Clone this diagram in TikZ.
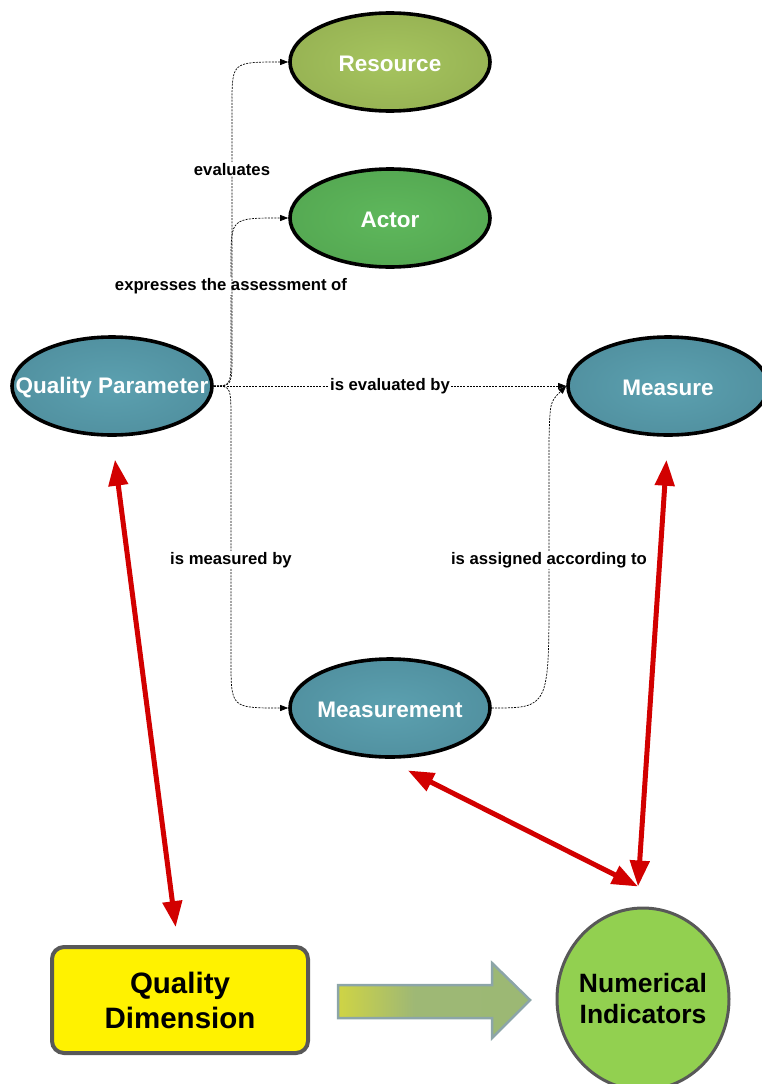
\documentclass[tikz,border=0pt]{standalone}
\usepackage{fontspec}
\setmainfont{Liberation Sans}
\usetikzlibrary{shapes.geometric,arrows.meta,calc}

% radial fills for the ellipses (lighter centre, darker rim)
\pgfdeclareradialshading{tealshade}{\pgfpoint{0bp}{0bp}}{rgb(0bp)=(0.36,0.63,0.69);rgb(50bp)=(0.28,0.51,0.57)}
\pgfdeclareradialshading{oliveshade}{\pgfpoint{0bp}{0bp}}{rgb(0bp)=(0.65,0.77,0.37);rgb(50bp)=(0.54,0.64,0.29)}
\pgfdeclareradialshading{greenshade}{\pgfpoint{0bp}{0bp}}{rgb(0bp)=(0.37,0.72,0.36);rgb(50bp)=(0.30,0.61,0.29)}
% fill of the block arrow: yellow fading to grey-green
\pgfdeclarehorizontalshading{arrowfill}{100bp}{rgb(0bp)=(0.93,0.93,0.12);rgb(20bp)=(0.86,0.86,0.22);rgb(45bp)=(0.62,0.72,0.46);rgb(100bp)=(0.60,0.72,0.45)}

\definecolor{redarrow}{RGB}{210,0,0}
\definecolor{rimgray}{RGB}{88,88,88}
\definecolor{nigreen}{RGB}{146,208,80}
\definecolor{arrowedge}{RGB}{140,165,168}

\tikzset{
  ell/.style={ellipse, draw=black, line width=3.6pt, shade, minimum width=200pt,
    minimum height=98pt, inner sep=0pt},
  ntext/.style={text=white, yshift=-2pt, font=\bfseries\fontsize{22.5}{26}\selectfont},
  dline/.style={draw=black, line width=0.7pt, dash pattern=on 2pt off 1.2pt,
    -{Triangle[length=8pt,width=6pt]}},
  lbl/.style={fill=white, inner sep=1pt, text=black,
    font=\bfseries\fontsize{16.7}{19}\selectfont},
  redlink/.style={draw=redarrow, line width=5pt,
    {Triangle[length=26pt,width=19pt]}-{Triangle[length=26pt,width=19pt]}},
}

\begin{document}
\begin{tikzpicture}[x=1pt,y=-1pt]
\useasboundingbox (0,0) rectangle (761,1084);

% concept ellipses
\node[ell, shading=oliveshade, label={[ntext]center:Resource}] (res) at (390,62) {};
\node[ell, shading=greenshade, label={[ntext]center:Actor}] (act) at (390,218) {};
\node[ell, shading=tealshade, label={[ntext]center:Quality Parameter}] (qp) at (112,386) {};
\node[ell, shading=tealshade, label={[ntext]center:Measure}] (ms) at (668,386) {};
\node[ell, shading=tealshade, label={[ntext]center:Measurement}] (mt) at (390,708) {};

% bottom row
\node[draw=rimgray, line width=4pt, fill=yellow, rounded corners=12pt,
  minimum width=256pt, minimum height=106pt, align=center,
  font=\bfseries\fontsize{29.5}{35}\selectfont] (qd) at (180,1000) {Quality\\Dimension};
\node[ellipse, draw=rimgray, line width=3pt, fill=nigreen, minimum width=172pt,
  minimum height=182pt, inner sep=0pt,
  label={[align=center, font=\bfseries\fontsize{26.5}{31}\selectfont]center:Numerical\\Indicators}]
  (ni) at (643,999) {};

% block arrow between the two bottom shapes
\path[shade, shading=arrowfill, draw=arrowedge, line width=2.5pt, line join=miter]
  (338,985) -- (492,985) -- (492,963) -- (530,1000) -- (492,1038) -- (492,1018)
  -- (338,1018) -- cycle;

% dashed relations leaving Quality Parameter
\draw[dline] (qp.east) .. controls (231,386) .. (231,350)
  -- node[lbl, pos=0.73] {expresses the assessment of} (231,262)
  .. controls (231,218) .. (act.west);
\draw[dline] (qp.east) .. controls (232,386) .. (232,352)
  -- node[lbl, pos=0.74] {evaluates} (232,105)
  .. controls (232,62) .. (res.west);
\draw[dline] (qp.east) .. controls (231,386) .. (231,422)
  -- node[lbl, pos=0.58] {is measured by} (231,660)
  .. controls (231,708) .. (mt.west);
\draw[dline] (qp.east) -- node[lbl] {is evaluated by} (ms.west);
\draw[dline] (mt.east) .. controls (549,708) .. (549,590)
  -- node[lbl, pos=0.2] {is assigned according to} (549,440)
  .. controls (550,402) .. (ms.west);

% red correspondence links
\coordinate (hub) at ([shift={(-5,-20)}]ni.north);
\draw[redlink, shorten <=23pt, shorten >=18pt] (qp.south) -- ([xshift=-2pt]qd.north);
\draw[redlink, shorten <=23pt] (ms.south) -- (hub);
\draw[redlink, shorten <=26pt] (mt.-96) -- (hub);
\end{tikzpicture}
\end{document}
